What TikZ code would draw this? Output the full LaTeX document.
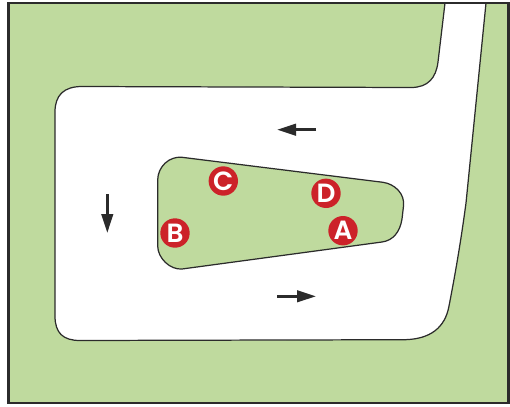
\documentclass[tikz,border=0pt]{standalone}
\usepackage{fontspec}
\usetikzlibrary{arrows.meta}
\newfontfamily\markerfont{Poppins SemiBold}

\definecolor{grass}{HTML}{BFDA9E}
\definecolor{markerred}{HTML}{CC2229}
\definecolor{ink}{HTML}{2B2B2B}

\begin{document}
\begin{tikzpicture}[x=0.02cm, y=-0.02cm]
	\tikzstyle{frame}=[draw=ink, line width=1.3pt, fill=grass];
	\tikzstyle{road}=[draw=ink, line width=0.7pt, fill=white];
	\tikzstyle{island}=[draw=ink, line width=0.7pt, fill=grass];
	\tikzstyle{marker}=[circle, fill=markerred, text=white, inner sep=0pt, minimum size=0.588cm, font=\markerfont\fontsize{15}{15}\selectfont];
	\tikzstyle{flow}=[draw=ink, line width=1.6pt, -{Triangle[length=0.38cm, width=0.23cm]}];

	\useasboundingbox (0, 0) rectangle (510, 406);

	\fill[white] (0, 0) rectangle (510, 406);
	\path[frame] (8.5, 3) rectangle (508.5, 403);

	% road, open along the top edge
	\draw[road] (445, 3) -- (438, 62)
		.. controls (436, 78) and (428, 87.5) .. (411, 87.5)
		-- (82, 86.5)
		.. controls (64, 86.5) and (55, 95) .. (55, 112)
		-- (55, 316)
		.. controls (55, 333) and (63, 340.5) .. (80, 340.5)
		-- (405, 339.7)
		.. controls (430, 339) and (445, 328) .. (449, 306)
		.. controls (456, 270) and (461, 240) .. (466, 203)
		-- (486, 3);
	\path[frame, fill=none] (8.5, 3) rectangle (508.5, 403);

	% island
	\draw[island] (182, 157.3) -- (383, 182.3)
		.. controls (395, 184) and (405, 194) .. (403.5, 206)
		-- (402, 219)
		.. controls (400, 232) and (393, 240.5) .. (382, 242)
		-- (182, 269)
		.. controls (170, 270) and (157.7, 258) .. (157.7, 246)
		-- (157.7, 180)
		.. controls (157.7, 167) and (169, 156) .. (182, 157.3) -- cycle;

	\node[marker] (c) at (223.3, 181) {C};
	\node[marker] (d) at (326, 193.3) {D};
	\node[marker] (b) at (175, 233) {B};
	\node[marker] (a) at (343, 230.7) {A};

	\coordinate (n0) at (316, 129.7);
	\coordinate (n1) at (277, 129.7);
	\coordinate (w0) at (107.3, 194);
	\coordinate (w1) at (107.3, 233);
	\coordinate (s0) at (277, 296.3);
	\coordinate (s1) at (316, 296.3);

	\draw[flow] (n0) -- (n1);
	\draw[flow] (w0) -- (w1);
	\draw[flow] (s0) -- (s1);
\end{tikzpicture}
\end{document}
